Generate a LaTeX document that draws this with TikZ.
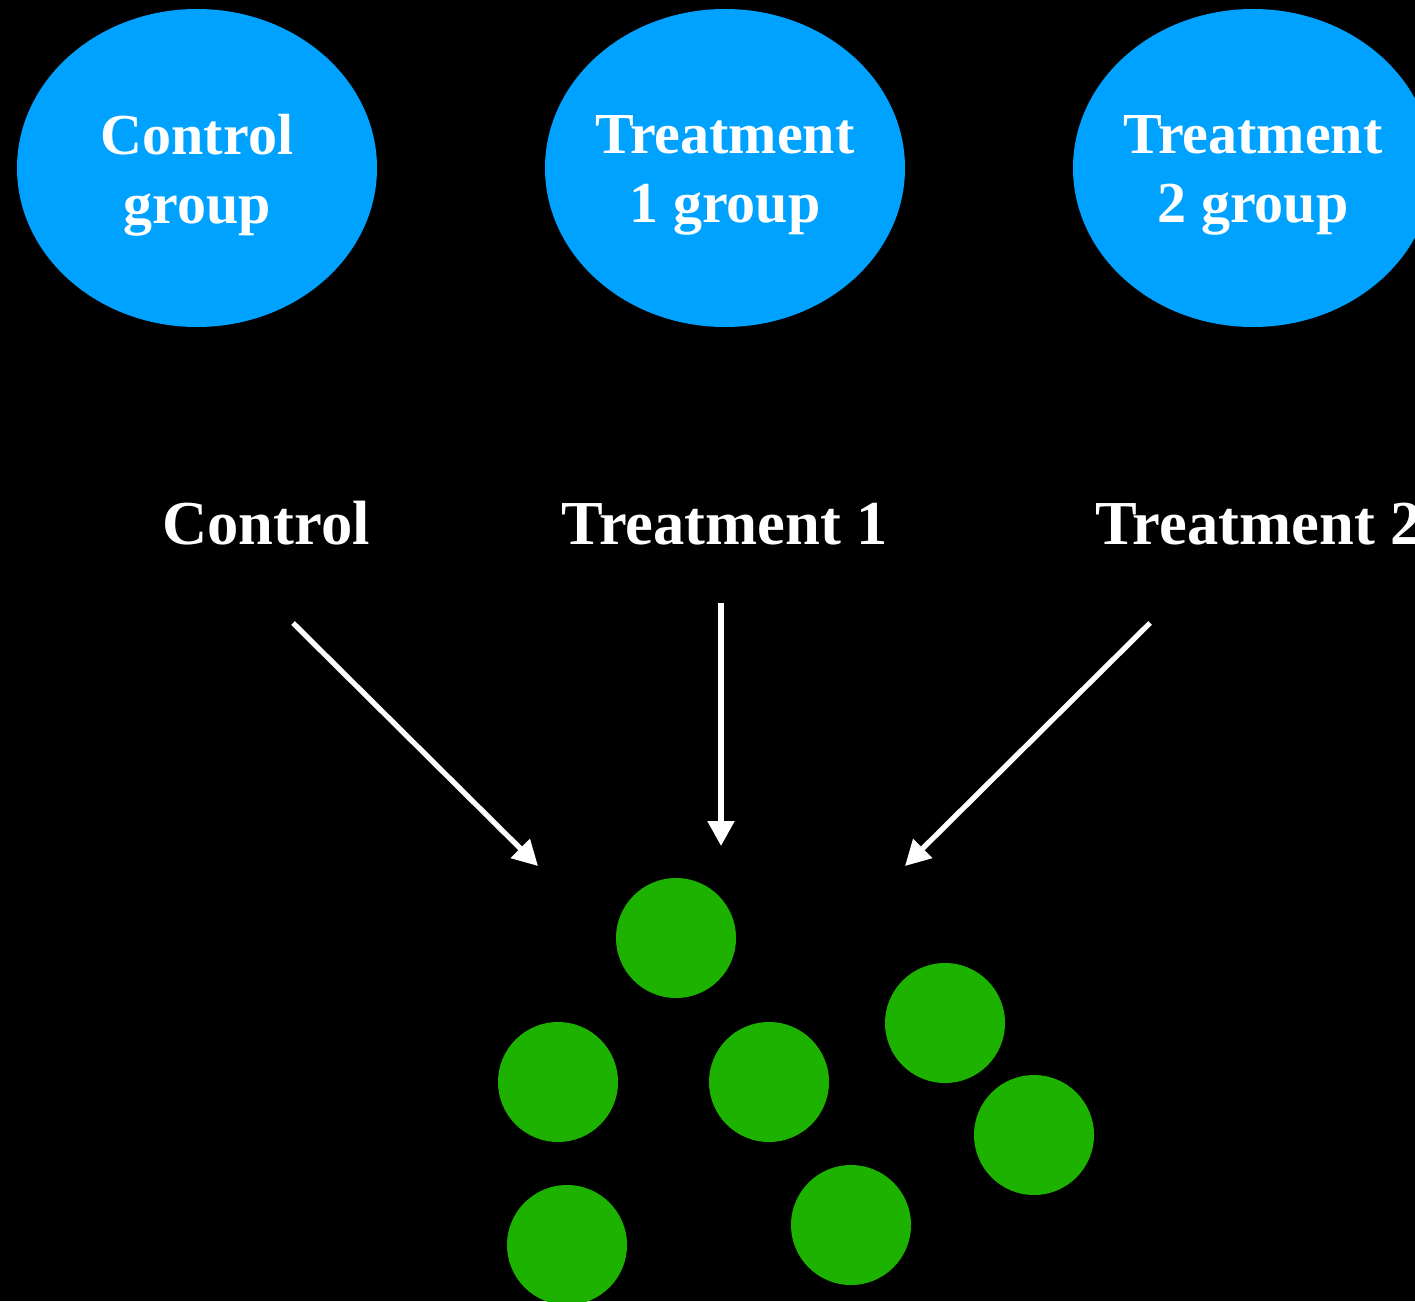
\documentclass[tikz,border=0pt]{standalone}
\usepackage{fontspec}
\setmainfont{Liberation Serif}
\usetikzlibrary{shapes.geometric,arrows.meta}

\definecolor{grpblue}{RGB}{0,162,255}
\definecolor{cellgreen}{RGB}{29,177,0}

\begin{document}
\begin{tikzpicture}[
    grp/.style={ellipse,fill=grpblue,minimum width=3.6cm,minimum height=3.18cm,inner sep=0pt},
    grptxt/.style={align=center,text=white,font=\fontsize{16.5}{19.6}\selectfont\bfseries},
    lbl/.style={text=white,anchor=base,font=\fontsize{17.8}{21}\selectfont\bfseries},
    cell/.style={circle,fill=cellgreen,minimum size=1.2cm,inner sep=0pt},
    arr/.style={white,line width=1.5pt,-{Triangle[length=0.25cm,width=0.26cm]}}]
  \clip (0,0) rectangle (14.15,13.01);
  \fill[black] (0,0) rectangle (14.15,13.01);

  \node[grp] (ctrlgrp) at (1.97,11.33) {};
  \node[grp] (trt1grp) at (7.25,11.33) {};
  \node[grp] (trt2grp) at (12.53,11.33) {};
  \node[grptxt] (ctrlgrptxt) at ([yshift=-0.07cm]ctrlgrp.center) {Control\\group};
  \node[grptxt] (trt1grptxt) at ([yshift=-0.07cm]trt1grp.center) {Treatment\\1 group};
  \node[grptxt] (trt2grptxt) at ([yshift=-0.07cm]trt2grp.center) {Treatment\\2 group};

  \node[lbl] (ctrl) at (2.66,7.57) {Control};
  \node[lbl] (trt1) at (7.25,7.57) {Treatment 1};
  \node[lbl,anchor=base west,inner xsep=0pt] (trt2) at (10.95,7.57) {Treatment 2};

  \coordinate (ctrlfrom) at (2.93,6.78);
  \coordinate (ctrlto) at (5.38,4.35);
  \coordinate (trt1from) at (7.21,6.98);
  \coordinate (trt1to) at (7.21,4.55);
  \coordinate (trt2from) at (11.50,6.78);
  \coordinate (trt2to) at (9.05,4.35);
  \draw[arr] (ctrlfrom) -- (ctrlto);
  \draw[arr] (trt1from) -- (trt1to);
  \draw[arr] (trt2from) -- (trt2to);

  \node[cell] (c1) at (6.76,3.63) {};
  \node[cell] (c2) at (5.58,2.19) {};
  \node[cell] (c3) at (7.69,2.19) {};
  \node[cell] (c4) at (9.45,2.78) {};
  \node[cell] (c5) at (10.34,1.66) {};
  \node[cell] (c6) at (8.51,0.76) {};
  \node[cell] (c7) at (5.67,0.56) {};
\end{tikzpicture}
\end{document}
